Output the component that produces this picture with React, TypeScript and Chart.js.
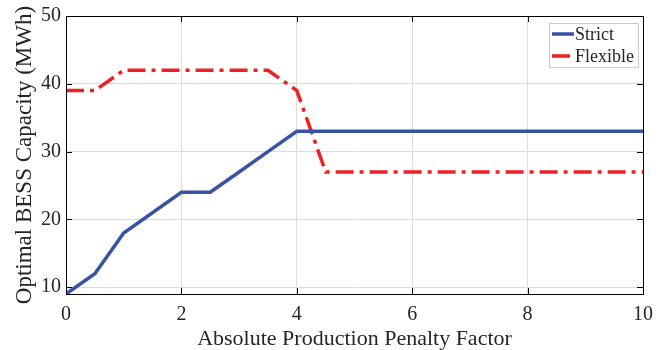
import React, { useEffect, useRef } from "react";
import { Chart, registerables } from "chart.js";

Chart.register(...registerables);

const xValues = [0, 0.5, 1, 2, 2.5, 3, 3.5, 4, 4.5, 5, 6, 7, 8, 9, 10];
const strictValues = [9, 12, 18, 24, 24, 27, 30, 33, 33, 33, 33, 33, 33, 33, 33];
const flexibleValues = [39, 39, 42, 42, 42, 42, 42, 39, 27, 27, 27, 27, 27, 27, 27];
const seriesLabels = ["Strict", "Flexible"];
const xTicks = [0, 2, 4, 6, 8, 10];
const yTicks = [10, 20, 30, 40, 50];

const FONT = "'Liberation Serif', 'Times New Roman', serif";
const BLUE = "#3953a4";
const RED = "#ee2024";
const TEXT = "#262626";

const boxPlugin = {
  id: "boxPlugin",
  afterDraw(chart: any) {
    const { ctx, chartArea: a, scales } = chart;
    ctx.save();
    ctx.strokeStyle = "#000";
    ctx.lineWidth = 1;
    ctx.beginPath();
    const tl = 6;
    for (const v of xTicks) {
      const px = Math.round(scales.x.getPixelForValue(v)) + 0.5;
      ctx.moveTo(px, a.bottom);
      ctx.lineTo(px, a.bottom - tl);
      ctx.moveTo(px, a.top);
      ctx.lineTo(px, a.top + tl);
    }
    for (const v of yTicks) {
      const py = Math.round(scales.y.getPixelForValue(v)) + 0.5;
      ctx.moveTo(a.left, py);
      ctx.lineTo(a.left + tl, py);
      ctx.moveTo(a.right, py);
      ctx.lineTo(a.right - tl, py);
    }
    ctx.stroke();
    ctx.strokeRect(Math.round(a.left) + 0.5, Math.round(a.top) + 0.5, Math.round(a.right - a.left), Math.round(a.bottom - a.top));

    // legend
    const lx = 549, ly = 23, lw = 89, lh = 44;
    ctx.fillStyle = "#fff";
    ctx.fillRect(lx, ly, lw, lh);
    ctx.strokeStyle = "#cccccc";
    ctx.strokeRect(lx + 0.5, ly + 0.5, lw, lh);
    ctx.font = `18px ${FONT}`;
    ctx.textBaseline = "middle";
    ctx.fillStyle = TEXT;
    const ds = chart.data.datasets;
    ds.forEach((d: any, i: number) => {
      const y = ly + 11 + i * 22;
      ctx.strokeStyle = d.borderColor;
      ctx.lineWidth = 3.5;
      ctx.setLineDash(d.borderDash || []);
      ctx.beginPath();
      ctx.moveTo(lx + 3, y);
      ctx.lineTo(lx + 25, y);
      ctx.stroke();
      ctx.setLineDash([]);
      ctx.fillText(d.label, lx + 26, y + 1);
    });
    ctx.restore();
  },
};

export default function App() {
  const ref = useRef<HTMLCanvasElement>(null);
  useEffect(() => {
    document.body.style.margin = "0";
    const chart = new Chart(ref.current!, {
      type: "line",
      data: {
        datasets: [
          {
            label: seriesLabels[0],
            data: xValues.map((x, i) => ({ x, y: strictValues[i] })),
            borderColor: BLUE,
            backgroundColor: BLUE,
            borderWidth: 3.5,
            pointRadius: 0,
            tension: 0,
          },
          {
            label: seriesLabels[1],
            data: xValues.map((x, i) => ({ x, y: flexibleValues[i] })),
            borderColor: RED,
            backgroundColor: RED,
            borderWidth: 3.5,
            borderDash: [18, 6, 4, 6],
            pointRadius: 0,
            tension: 0,
          },
        ],
      },
      options: {
        animation: false,
        responsive: false,
        layout: { padding: { top: 16, right: 24, left: 0, bottom: 0 } },
        plugins: { legend: { display: false }, tooltip: { enabled: false } },
        scales: {
          x: {
            type: "linear",
            min: 0,
            max: 10,
            afterBuildTicks: (s: any) => { s.ticks = xTicks.map((v) => ({ value: v })); },
            afterFit: (s: any) => { s.height = 56; s.paddingLeft = 0; s.paddingRight = 0; },
            ticks: { color: TEXT, font: { family: FONT, size: 20 }, padding: 9, maxRotation: 0 },
            grid: { color: "#dcdcdc", drawTicks: false, lineWidth: 1 },
            border: { display: false },
            title: { display: true, text: "Absolute Production Penalty Factor", color: TEXT, font: { family: FONT, size: 22 }, padding: { top: 0, bottom: -2 } },
          },
          y: {
            type: "linear",
            min: 9,
            max: 50,
            afterBuildTicks: (s: any) => { s.ticks = yTicks.map((v) => ({ value: v })); },
            afterFit: (s: any) => { s.width = 66; s.paddingTop = 0; s.paddingBottom = 0; },
            ticks: { color: TEXT, font: { family: FONT, size: 20 }, padding: 5 },
            grid: { color: "#dcdcdc", drawTicks: false, lineWidth: 1 },
            border: { display: false },
            title: { display: true, text: "Optimal BESS Capacity (MWh)", color: TEXT, font: { family: FONT, size: 23 }, padding: { top: 11, bottom: 0 } },
          },
        },
      },
      plugins: [boxPlugin],
    });
    return () => chart.destroy();
  }, []);
  return <canvas ref={ref} width={667} height={350} style={{ display: "block" }} />;
}
